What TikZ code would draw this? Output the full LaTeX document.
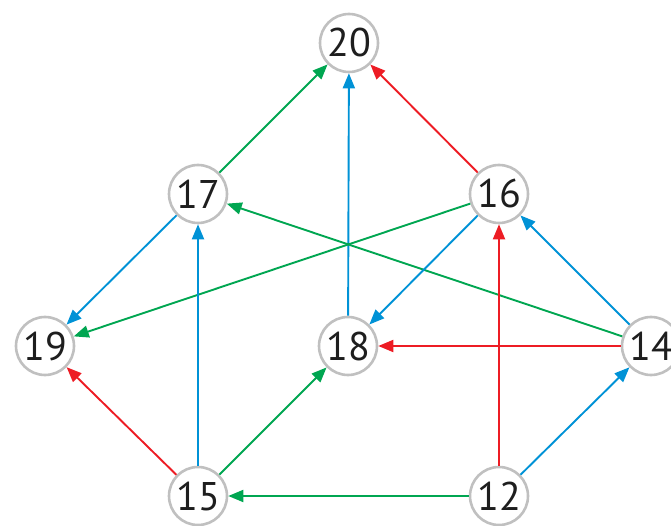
\documentclass[tikz,border=0pt]{standalone}
\usepackage{fontspec}
\setmainfont{PT Sans}
\usetikzlibrary{arrows.meta}
\definecolor{eg}{RGB}{0,166,81}
\definecolor{eb}{RGB}{0,146,214}
\definecolor{er}{RGB}{237,28,36}
\definecolor{ring}{RGB}{192,192,192}
\definecolor{txt}{RGB}{30,30,30}
\begin{document}
\begin{tikzpicture}[x=1pt,y=-1pt,
  vert/.style={circle,draw=ring,line width=2.6pt,fill=white,minimum size=58pt,inner sep=0pt,text=txt,font=\fontsize{40}{40}\selectfont},
  edge/.style={line width=1.9pt,-{Triangle[length=15pt,width=12pt]}},
  g/.style={edge,draw=eg,fill=eg},
  b/.style={edge,draw=eb,fill=eb},
  r/.style={edge,draw=er,fill=er}]
\useasboundingbox (0,0) rectangle (671,526);
\node[vert] (n20) at (349,43) {20};
\node[vert] (n17) at (198,194) {17};
\node[vert] (n16) at (499,194) {16};
\node[vert] (n19) at (45,346) {19};
\node[vert] (n18) at (348,346) {18};
\node[vert] (n14) at (651,346) {14};
\node[vert] (n15) at (198,496) {15};
\node[vert] (n12) at (499,496) {12};
\draw[g] (n17) -- (n20);
\draw[b] (n18) -- (n20);
\draw[r] (n16) -- (n20);
\draw[b] (n17) -- (n19);
\draw[g] (n16) -- (n19);
\draw[g] (n14) -- (n17);
\draw[b] (n16) -- (n18);
\draw[b] (n14) -- (n16);
\draw[r] (n14) -- (n18);
\draw[r] (n15) -- (n19);
\draw[b] (n15) -- (n17);
\draw[g] (n15) -- (n18);
\draw[r] (n12) -- (n16);
\draw[g] (n12) -- (n15);
\draw[b] (n12) -- (n14);
\end{tikzpicture}
\end{document}
